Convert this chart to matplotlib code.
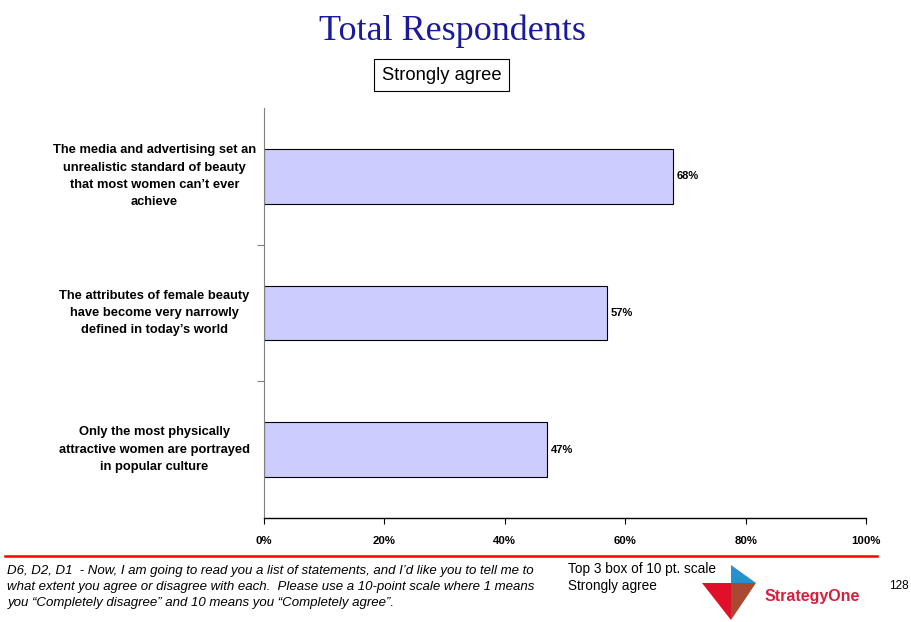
import matplotlib.pyplot as plt
from matplotlib.patches import Polygon
from matplotlib.ticker import NullFormatter

# Data
categories = [
    "The media and advertising set an\nunrealistic standard of beauty\nthat most women can\u2019t ever\nachieve",
    "The attributes of female beauty\nhave become very narrowly\ndefined in today\u2019s world",
    "Only the most physically\nattractive women are portrayed\nin popular culture",
]
values = [68, 57, 47]
xticks = [0, 20, 40, 60, 80, 100]

fig = plt.figure(figsize=(9.11, 6.22), dpi=100)
ax = fig.add_axes([0.2898, 0.1672, 0.6608, 0.6592])

pos = list(range(len(categories)))
ax.barh(pos, values, height=0.4, color="#ccccff", edgecolor="black", linewidth=0.8)
ax.set_ylim(2.5, -0.5)
ax.set_xlim(0, 100)

for p, v in zip(pos, values):
    ax.text(v + 0.6, p, f"{v}%", va="center", ha="left", fontsize=8,
            fontweight="bold", family="Liberation Sans")

# category labels, centred in the left margin
for p, c in zip(pos, categories):
    ax.annotate(c, xy=(0, p), xycoords=("axes fraction", "data"),
                xytext=(-79, 0), textcoords="offset points", ha="center", va="center",
                fontsize=9.3, fontweight="bold", family="Liberation Sans", linespacing=1.6)

ax.set_yticks([0.5, 1.5])
ax.yaxis.set_major_formatter(NullFormatter())
ax.tick_params(axis="y", length=5, color="#808080")
ax.set_xticks(xticks)
ax.set_xticklabels([f"{t}%" for t in xticks], fontsize=8.2, fontweight="bold",
                   family="Liberation Sans")
ax.tick_params(axis="x", length=4, pad=9)
for s in ["top", "right"]:
    ax.spines[s].set_visible(False)
ax.spines["left"].set_color("#808080")
ax.spines["bottom"].set_linewidth(1.0)

# Title and subtitle box
fig.text(0.497, 0.950, "Total Respondents", ha="center", va="center",
         fontsize=26, family="Liberation Serif", color="#1a1a9c")
fig.text(0.485, 0.879, "Strongly agree", ha="center", va="center", fontsize=13.2,
         family="Liberation Sans",
         bbox=dict(boxstyle="square,pad=0.42", fc="white", ec="black", lw=0.8))

# Footer
fig.add_artist(plt.Line2D([0.006, 0.963], [0.106, 0.106], color="red", lw=1.8))
fig.text(0.008, 1 - 587 / 622,
         "D6, D2, D1  - Now, I am going to read you a list of statements, and I\u2019d like you to tell me to\n"
         "what extent you agree or disagree with each.  Please use a 10-point scale where 1 means\n"
         "you \u201cCompletely disagree\u201d and 10 means you \u201cCompletely agree\u201d.",
         ha="left", va="center", fontsize=9.55, style="italic", family="Liberation Sans",
         linespacing=1.42)
fig.text(0.624, 1 - 562 / 622, "Top 3 box of 10 pt. scale\nStrongly agree", ha="left", va="top",
         fontsize=9.8, family="Liberation Sans", linespacing=1.25)

W, H = 911, 622
def fpoly(pts, color):
    fig.add_artist(Polygon([(x / W, 1 - y / H) for x, y in pts], closed=True,
                           transform=fig.transFigure, fc=color, ec="none"))
fpoly([(731, 565), (731, 583), (756, 583)], "#2a8fd0")
fpoly([(702, 583), (731, 583), (731, 620)], "#e0102a")
fpoly([(731, 583), (756, 583), (731, 620)], "#a84a30")
fig.text(0.839, 1 - 596 / H, "StrategyOne", ha="left", va="center", fontsize=11.5,
         fontweight="bold", family="Liberation Sans", color="#d4203c")
fig.text(0.976, 1 - 586 / H, "128", ha="left", va="center", fontsize=8.5,
         family="Liberation Sans")

fig.savefig("out.png", dpi=100)
